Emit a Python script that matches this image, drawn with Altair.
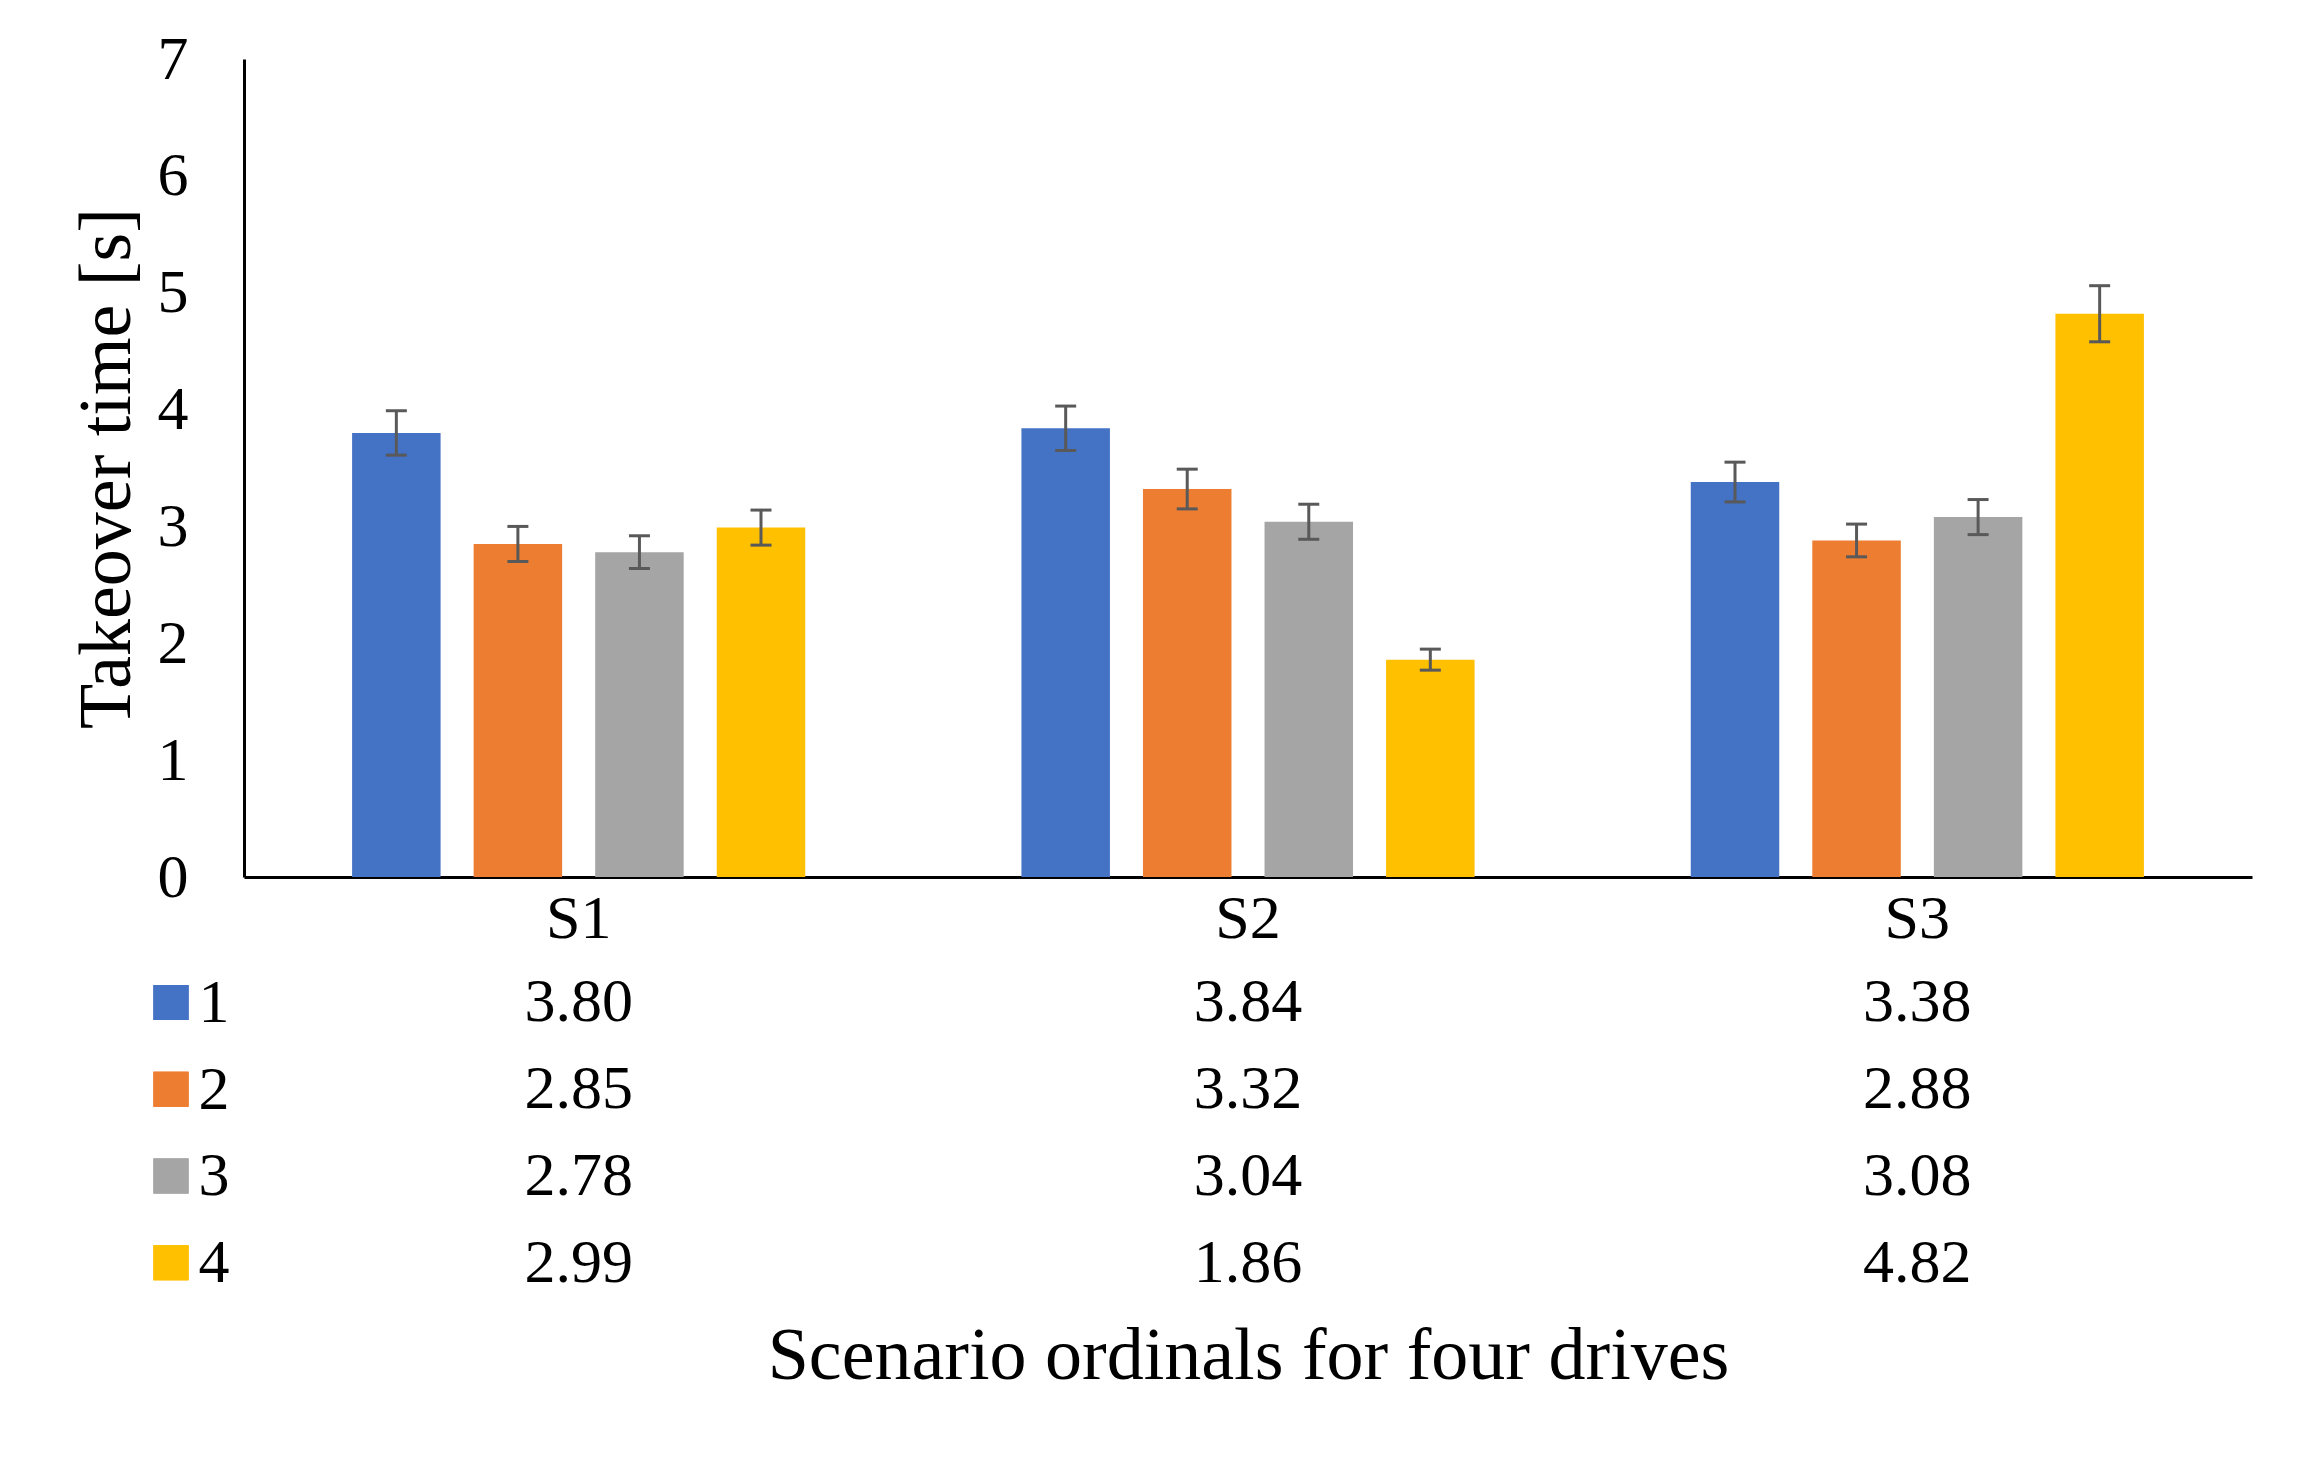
import altair as alt
import pandas as pd

FONT = "Liberation Serif"

scenarios = ["S1", "S2", "S3"]
drives = ["1", "2", "3", "4"]
colors = ["#4472C4", "#ED7D31", "#A5A5A5", "#FFC000"]

means_1 = [3.80, 3.84, 3.38]
means_2 = [2.85, 3.32, 2.88]
means_3 = [2.78, 3.04, 3.08]
means_4 = [2.99, 1.86, 4.82]

err_1 = [0.19, 0.19, 0.17]
err_2 = [0.15, 0.17, 0.14]
err_3 = [0.14, 0.15, 0.15]
err_4 = [0.15, 0.09, 0.24]

y_ticks = [0, 1, 2, 3, 4, 5, 6, 7]

rows = []
for d, ms, es in zip(drives, [means_1, means_2, means_3, means_4], [err_1, err_2, err_3, err_4]):
    for s, m, e in zip(scenarios, ms, es):
        rows.append({"scenario": s, "drive": d, "mean": m, "lo": m - e, "hi": m + e, "label": f"{m:.2f}"})
df = pd.DataFrame(rows)

x_scale = alt.Scale(domain=scenarios, paddingInner=0.323, paddingOuter=0.1615)
xoff = alt.XOffset("drive:N", sort=drives, scale=alt.Scale(domain=drives, paddingInner=0.272, paddingOuter=0))
color = alt.Color("drive:N", scale=alt.Scale(domain=drives, range=colors), legend=None)

x_top = alt.X("scenario:N", sort=scenarios, scale=x_scale,
              axis=alt.Axis(title=None, labelAngle=0, labelFontSize=62, labelFont=FONT,
                            labelColor="black", ticks=False, labelPadding=11,
                            domainColor="black", domainWidth=3))
y_axis = alt.Axis(values=y_ticks, grid=False, ticks=False, labelFontSize=62, labelFont=FONT,
                  labelColor="black", labelPadding=56, domainColor="black", domainWidth=3,
                  title="Takeover time [s]", titleFontSize=74, titleFont=FONT,
                  titleFontWeight="normal", titleColor="black", titlePadding=12)
y_scale = alt.Scale(domain=[0, 7], nice=False)

base = alt.Chart(df)
bars = base.mark_bar().encode(
    x=x_top, xOffset=xoff,
    y=alt.Y("mean:Q", scale=y_scale, axis=y_axis, title="Takeover time [s]"),
    color=color,
)
err_rule = base.mark_rule(color="#595959", strokeWidth=3).encode(
    x=x_top, xOffset=xoff,
    y=alt.Y("lo:Q", scale=y_scale, axis=y_axis, title="Takeover time [s]"),
    y2="hi:Q",
)
cap_hi = base.mark_tick(color="#595959", thickness=3, size=21, opacity=1).encode(
    x=x_top, xOffset=xoff,
    y=alt.Y("hi:Q", scale=y_scale, axis=y_axis, title="Takeover time [s]"),
)
cap_lo = base.mark_tick(color="#595959", thickness=3, size=21, opacity=1).encode(
    x=x_top, xOffset=xoff,
    y=alt.Y("lo:Q", scale=y_scale, axis=y_axis, title="Takeover time [s]"),
)

top = alt.layer(bars, err_rule, cap_hi, cap_lo).properties(width=2008, height=818)

x_tab = alt.X("scenario:N", sort=scenarios, scale=x_scale,
              axis=alt.Axis(labels=False, ticks=False, domain=False,
                            title="Scenario ordinals for four drives", titleFontSize=74,
                            titleFont=FONT, titleFontWeight="normal", titleColor="black",
                            titlePadding=14))
y_tab = alt.Y("drive:N", sort=drives, scale=alt.Scale(domain=drives, paddingInner=0, paddingOuter=0),
              axis=alt.Axis(title=None, ticks=False, domain=False, labelFontSize=62, labelFont=FONT,
                            labelColor="black", labelPadding=15, labelAngle=0))

table_text = base.mark_text(fontSize=62, font=FONT, color="black", baseline="middle").encode(
    x=x_tab, y=y_tab, text="label:N",
)
swatches = base.mark_square(size=1225, opacity=1).encode(
    x=alt.value(-73), y=y_tab, color=color,
)
table = alt.layer(table_text, swatches).properties(width=2008, height=347)

chart = alt.vconcat(top, table, spacing=10).properties(
    padding={"left": 62, "top": 20, "right": 5, "bottom": 5},
    background="white",
).configure_view(stroke=None)

chart.save("out.html", embed_options={"renderer": "svg", "actions": False})
